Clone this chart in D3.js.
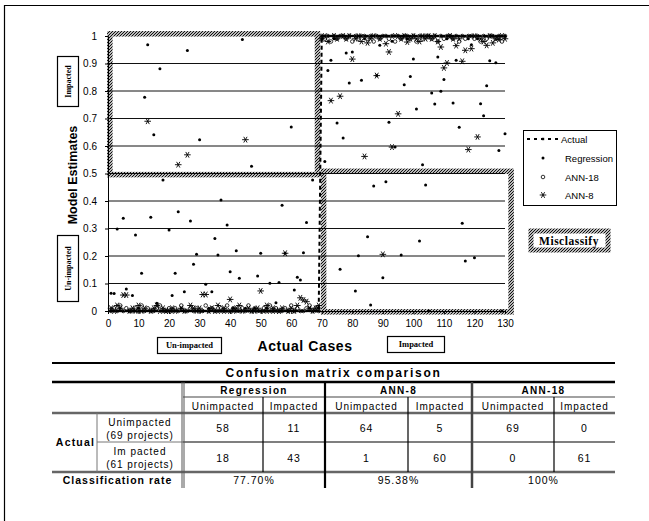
<!DOCTYPE html>
<html>
<head>
<meta charset="utf-8">
<script src="https://d3js.org/d3.v7.min.js"></script>
<style>
  body { margin: 0; background: #fff; }
  text { font-family: Arial, "Liberation Sans", sans-serif; fill: #000; }
  .serif { font-family: "Times New Roman", "Liberation Serif", serif; font-weight: bold; }
</style>
</head>
<body>
<script>
// ---- data ----
var caseNo = d3.range(1, 131);   // actual cases 1..130

var actual = [
  0,0,0,0,0,0,0,0,0,0, 0,0,0,0,0,0,0,0,0,0, 0,0,0,0,0,0,0,0,0,0,
  0,0,0,0,0,0,0,0,0,0, 0,0,0,0,0,0,0,0,0,0, 0,0,0,0,0,0,0,0,0,0,
  0,0,0,0,0,0,0,0,0,
  1,1,1,1,1,1,1,1,1,1, 1,1,1,1,1,1,1,1,1,1, 1,1,1,1,1,1,1,1,1,1,
  1,1,1,1,1,1,1,1,1,1, 1,1,1,1,1,1,1,1,1,1, 1,1,1,1,1,1,1,1,1,1,
  1
];

var regression = [
  0.065,0.064,0.298,0.01,0.337,0.08,0.0,0.056,0.276,0.01,
  0.137,0.777,0.968,0.341,0.641,0.028,0.881,0.476,0.0,0.295,
  0.056,0.137,0.361,0.01,0.07,0.947,0.327,0.17,0.206,0.623,
  0.0,0.097,0.01,0.07,0.264,0.204,0.404,0.0,0.313,0.143,
  0.01,0.219,0.119,0.987,0.01,0.0,0.526,0.01,0.127,0.21,
  0.0,0.01,0.101,0.0,0.03,0.104,0.385,0.21,0.0,0.669,
  0.076,0.123,0.113,0.212,0.322,0.01,0.476,0.0,0.01,
  0.99,0.544,0.875,0.912,0.99,0.684,0.152,0.629,0.938,0.829,
  0.942,0.073,0.201,0.839,0.99,0.27,0.022,0.455,0.856,0.966,
  0.121,0.47,0.686,0.981,0.596,1.0,0.204,0.823,0.99,0.853,
  0.916,0.735,0.255,0.532,0.458,0.0,0.793,0.753,0.924,0.799,
  0.842,0.99,1.0,0.756,0.912,0.668,0.319,0.182,0.99,0.968,
  0.194,0.99,0.754,0.71,0.819,0.91,1.0,0.903,0.584,0.0,0.645
];

var ann18 = [
  0.0,0.01,0.0,0.02,0.0,0.01,0.0,0.0,0.01,0.0,
  0.02,0.0,0.01,0.0,0.0,0.01,0.02,0.0,0.0,0.01,
  0.0,0.01,0.0,0.02,0.0,0.0,0.01,0.0,0.01,0.0,
  0.0,0.02,0.0,0.01,0.0,0.0,0.01,0.0,0.02,0.0,
  0.01,0.0,0.0,0.01,0.0,0.02,0.0,0.01,0.0,0.0,
  0.01,0.0,0.02,0.0,0.01,0.0,0.0,0.01,0.0,0.02,
  0.0,0.01,0.0,0.0,0.01,0.02,0.0,0.01,0.0,
  1.0,0.99,1.0,0.98,1.0,0.99,1.0,1.0,0.99,1.0,
  0.98,1.0,0.99,1.0,1.0,0.99,1.0,0.98,1.0,0.99,
  1.0,1.0,0.99,1.0,0.98,1.0,0.99,1.0,1.0,0.99,
  1.0,0.98,1.0,0.99,1.0,1.0,0.99,1.0,0.98,1.0,
  0.99,1.0,1.0,0.99,1.0,0.98,1.0,0.99,1.0,1.0,
  0.99,1.0,0.98,1.0,0.99,1.0,1.0,0.99,1.0,0.98,1.0
];

var ann8 = [
  0.01,0.0,0.02,0.01,0.058,0.058,0.0,0.01,0.0,0.02,
  0.0,0.01,0.69,0.0,0.01,0.02,0.0,0.01,0.0,0.0,
  0.01,0.0,0.532,0.01,0.0,0.568,0.02,0.01,0.0,0.01,
  0.06,0.06,0.0,0.01,0.0,0.02,0.0,0.01,0.0,0.042,
  0.0,0.01,0.02,0.0,0.623,0.01,0.0,0.0,0.01,0.073,
  0.0,0.02,0.0,0.01,0.0,0.0,0.01,0.21,0.0,0.01,
  0.0,0.02,0.048,0.04,0.034,0.01,0.0,0.01,0.02,
  0.99,1.0,0.98,0.765,1.0,0.99,0.781,1.0,0.99,1.0,
  0.916,0.99,1.0,0.98,0.562,0.975,0.99,1.0,0.856,0.99,
  0.206,0.972,0.942,0.596,1.0,0.717,0.99,1.0,0.978,0.99,
  1.0,0.99,0.98,1.0,0.99,1.0,0.99,1.0,0.98,0.96,
  0.884,0.902,1.0,0.99,0.965,0.99,0.908,0.948,0.587,0.954,
  1.0,0.633,0.99,0.98,0.966,1.0,0.975,0.99,0.987,1.0,0.99
];

var xTicks = [0,10,20,30,40,50,60,70,80,90,100,110,120,130];
var yTicks = [0,0.1,0.2,0.3,0.4,0.5,0.6,0.7,0.8,0.9,1];
var legendNames = ["Actual", "Regression", "ANN-18", "ANN-8"];

// confusion matrix table
var models = ["Regression", "ANN-8", "ANN-18"];
var subHeads = ["Unimpacted", "Impacted"];
var rowLabels = [["Unimpacted", "(69 projects)"], ["Im pacted", "(61 projects)"]];
var matrix = [
  [[58, 11], [18, 43]],
  [[64, 5], [1, 60]],
  [[69, 0], [0, 61]]
];
var rates = ["77.70%", "95.38%", "100%"];

// ---- drawing ----
var W = 649, H = 521;
var svg = d3.select("body").append("svg").attr("width", W).attr("height", H);
svg.append("rect").attr("width", W).attr("height", H).attr("fill", "#fff");

// outer frame (left + top visible)
svg.append("path").attr("d", "M4.5,521 V5.5 H649").attr("fill", "none").attr("stroke", "#000").attr("stroke-width", 1.2);

var defs = svg.append("defs");
defs.append("pattern").attr("id", "hatch").attr("patternUnits", "userSpaceOnUse")
    .attr("width", 3).attr("height", 3)
  .append("path").attr("d", "M-1,1 l2,-2 M0,3 l3,-3 M2,4 l2,-2")
    .attr("stroke", "#000").attr("stroke-width", 1.05);

var x = d3.scaleLinear().domain([0, 130]).range([108, 505]);
var y = d3.scaleLinear().domain([0, 1]).range([311, 36]);

// gridlines
svg.append("g").selectAll("line").data(yTicks.filter(function (d) { return d > 0 && d < 1; }))
  .enter().append("line")
    .attr("x1", x(0)).attr("x2", x(130))
    .attr("y1", function (d) { return y(d); }).attr("y2", function (d) { return y(d); })
    .attr("stroke", "#111").attr("stroke-width", 1);

// axes
var xAxis = svg.append("g").attr("transform", "translate(0," + y(0) + ")")
  .call(d3.axisBottom(x).tickValues(xTicks).tickSize(3).tickPadding(6).tickFormat(d3.format("d")));
var yAxis = svg.append("g").attr("transform", "translate(" + x(0) + ",0)")
  .call(d3.axisLeft(y).tickValues(yTicks).tickSize(3).tickPadding(8).tickFormat(function (d) { return d === 0 || d === 1 ? d : d3.format(".1f")(d); }));
[xAxis, yAxis].forEach(function (a) {
  a.selectAll("text").style("font-size", "10px").attr("fill", "#111");
  a.selectAll("line,path").attr("stroke", "#000");
});

// misclassified regions (hatched frames)
function hatchBox(x0, y0, x1, y1) {
  svg.append("rect")
    .attr("x", x0).attr("y", y0).attr("width", x1 - x0).attr("height", y1 - y0)
    .attr("fill", "none").attr("stroke", "url(#hatch)").attr("stroke-width", 5.5);
}
hatchBox(x(0.6), y(1.008), x(68.6), y(0.496));
hatchBox(x(70.6), y(0.508), x(132), y(-0.003));

// actual: dashed line + small markers
var line = d3.line().x(function (d, i) { return x(caseNo[i]); }).y(function (d) { return y(d); });
svg.append("path").datum(actual).attr("d", line)
  .attr("fill", "none").attr("stroke", "#000").attr("stroke-width", 2).attr("stroke-dasharray", "4,3");
svg.append("g").selectAll("rect").data(actual).enter().append("rect")
  .attr("x", function (d, i) { return x(caseNo[i]) - 1.2; })
  .attr("y", function (d) { return y(d) - 1.2; })
  .attr("width", 2.4).attr("height", 2.4).attr("fill", "#000");

// ANN-18: open circles
svg.append("g").selectAll("circle").data(ann18).enter().append("circle")
  .attr("cx", function (d, i) { return x(caseNo[i]); })
  .attr("cy", function (d) { return y(d); })
  .attr("r", 1.8).attr("fill", "none").attr("stroke", "#000").attr("stroke-width", 0.8);

// Regression: small filled dots
svg.append("g").selectAll("circle").data(regression).enter().append("circle")
  .attr("cx", function (d, i) { return x(caseNo[i]); })
  .attr("cy", function (d) { return y(d); })
  .attr("r", 1.5).attr("fill", "#000");

// ANN-8: asterisk / cross
var star = d3.symbol().type(d3.symbolAsterisk).size(30);
svg.append("g").selectAll("path").data(ann8).enter().append("path")
  .attr("d", star)
  .attr("transform", function (d, i) { return "translate(" + x(caseNo[i]) + "," + y(d) + ") rotate(90)"; })
  .attr("fill", "none").attr("stroke", "#000").attr("stroke-width", 0.9);

// axis titles
svg.append("text").attr("transform", "translate(77,175) rotate(-90)")
  .attr("text-anchor", "middle").style("font-size", "12.5px").style("font-weight", "bold")
  .text("Model Estimates");
svg.append("text").attr("x", 305).attr("y", 351).attr("text-anchor", "middle")
  .style("font-size", "14px").style("font-weight", "bold").style("letter-spacing", "0.6px")
  .text("Actual Cases");

// boxed category labels
function labelBox(bx, by, bw, bh, txt, rotate, fs) {
  svg.append("rect").attr("x", bx).attr("y", by).attr("width", bw).attr("height", bh)
    .attr("fill", "#fff").attr("stroke", "#000").attr("stroke-width", 1.2);
  var t = svg.append("text").attr("class", "serif").attr("text-anchor", "middle")
    .style("font-size", fs + "px").text(txt);
  if (rotate) t.attr("transform", "translate(" + (bx + bw / 2 + fs * 0.35) + "," + (by + bh / 2) + ") rotate(-90)");
  else t.attr("x", bx + bw / 2).attr("y", by + bh / 2 + fs * 0.35);
}
labelBox(57.5, 56.5, 21, 50, "Impacted", true, 8);
labelBox(57.5, 235.5, 21, 66, "Un-impacted", true, 8);
labelBox(157.5, 337.5, 64, 16, "Un-impacted", false, 8.5);
labelBox(387.5, 336.5, 57, 16, "Impacted", false, 8.5);

// legend
var lg = svg.append("g");
lg.append("rect").attr("x", 523.5).attr("y", 130.5).attr("width", 93).attr("height", 75)
  .attr("fill", "#fff").attr("stroke", "#000").attr("stroke-width", 1);
var ly = [139, 158, 177, 195];
lg.selectAll("text").data(legendNames).enter().append("text")
  .attr("x", function (d, i) { return i === 0 ? 561 : 565; })
  .attr("y", function (d, i) { return ly[i] + 3.5; })
  .style("font-size", "9.5px").text(function (d) { return d; });
lg.append("line").attr("x1", 527).attr("x2", 561).attr("y1", ly[0]).attr("y2", ly[0])
  .attr("stroke", "#000").attr("stroke-width", 2).attr("stroke-dasharray", "3,4");
lg.append("rect").attr("x", 541.8).attr("y", ly[0] - 1.2).attr("width", 2.4).attr("height", 2.4);
lg.append("circle").attr("cx", 543).attr("cy", ly[1]).attr("r", 1.5).attr("fill", "#000");
lg.append("circle").attr("cx", 543).attr("cy", ly[2]).attr("r", 1.8).attr("fill", "none").attr("stroke", "#000").attr("stroke-width", 0.8);
lg.append("path").attr("d", star).attr("transform", "translate(543," + ly[3] + ") rotate(90)")
  .attr("fill", "none").attr("stroke", "#000").attr("stroke-width", 0.9);

// misclassify key
svg.append("rect").attr("x", 531).attr("y", 231).attr("width", 77).attr("height", 19)
  .attr("fill", "none").attr("stroke", "url(#hatch)").attr("stroke-width", 5);
svg.append("text").attr("class", "serif").attr("x", 569).attr("y", 244.5).attr("text-anchor", "middle")
  .style("font-size", "11.5px").style("letter-spacing", "0.5px").text("Misclassify");

// ---- confusion matrix table ----
var cx = [52, 97, 183, 263, 325, 408, 472, 554, 615];
var ry = [363, 382, 397, 413, 442, 472, 488];
var tb = svg.append("g");
function hl(x1, x2, yy, w, c) {
  tb.append("line").attr("x1", x1).attr("x2", x2).attr("y1", yy).attr("y2", yy)
    .attr("stroke", c || "#000").attr("stroke-width", w);
}
function vl(xx, y1, y2, w, c) {
  tb.append("line").attr("x1", xx).attr("x2", xx).attr("y1", y1).attr("y2", y2)
    .attr("stroke", c || "#000").attr("stroke-width", w);
}
function tx(xx, yy, s, fs, bold, ls) {
  tb.append("text").attr("x", xx).attr("y", yy).attr("text-anchor", "middle")
    .style("font-size", fs + "px").style("font-weight", bold ? "bold" : "normal")
    .style("letter-spacing", (ls || 0) + "px").text(s);
}

hl(cx[0], cx[8], ry[0], 2);
hl(cx[0], cx[8], ry[1], 2.5);
hl(cx[2], cx[8], ry[2], 1.2, "#444");
hl(cx[0], cx[8], ry[3], 2.5, "#666");
hl(cx[1], cx[2], ry[4], 1, "#777");
hl(cx[2], cx[8], ry[4], 1.2);
hl(cx[0], cx[8], ry[5], 2.5, "#666");

vl(cx[1], ry[3], ry[5], 1, "#777");
vl(cx[2] - 1, ry[1], ry[6], 1, "#555");
vl(cx[2] + 1, ry[1], ry[6], 1, "#555");
vl(cx[3], ry[2], ry[5], 1.2);
vl(cx[4], ry[1], ry[6], 2.2);
vl(cx[5], ry[2], ry[5], 1.2);
vl(cx[6], ry[1], ry[6], 2.5, "#444");
vl(cx[7], ry[2], ry[5], 1.2);

tx((cx[0] + cx[8]) / 2, 377, "Confusion matrix comparison", 12, true, 1.7);
models.forEach(function (m, k) {
  var a = cx[2 + 2 * k], b = cx[3 + 2 * k], c = cx[4 + 2 * k];
  tx((a + c) / 2, 394, m, 10, true, 1.3);
  tx((a + b) / 2, 410, subHeads[0], 10, false, 0.9);
  tx((b + c) / 2, 410, subHeads[1], 10, false, 0.9);
  matrix[k].forEach(function (row, r) {
    tx((a + b) / 2, 432 + r * 29.5, row[0], 10.5, false, 1);
    tx((b + c) / 2, 432 + r * 29.5, row[1], 10.5, false, 1);
  });
  tx((a + c) / 2, 484, rates[k], 10.5, false, 1);
});
tx((cx[0] + cx[1]) / 2 + 1, 446, "Actual", 10.5, true, 1.2);
rowLabels.forEach(function (lb, r) {
  tx((cx[1] + cx[2]) / 2, 426 + r * 29, lb[0], 10, false, 1);
  tx((cx[1] + cx[2]) / 2, 439 + r * 29, lb[1], 10, false, 0.9);
});
tx((cx[0] + cx[2]) / 2, 484, "Classification rate", 10.5, true, 1);
</script>
</body>
</html>
